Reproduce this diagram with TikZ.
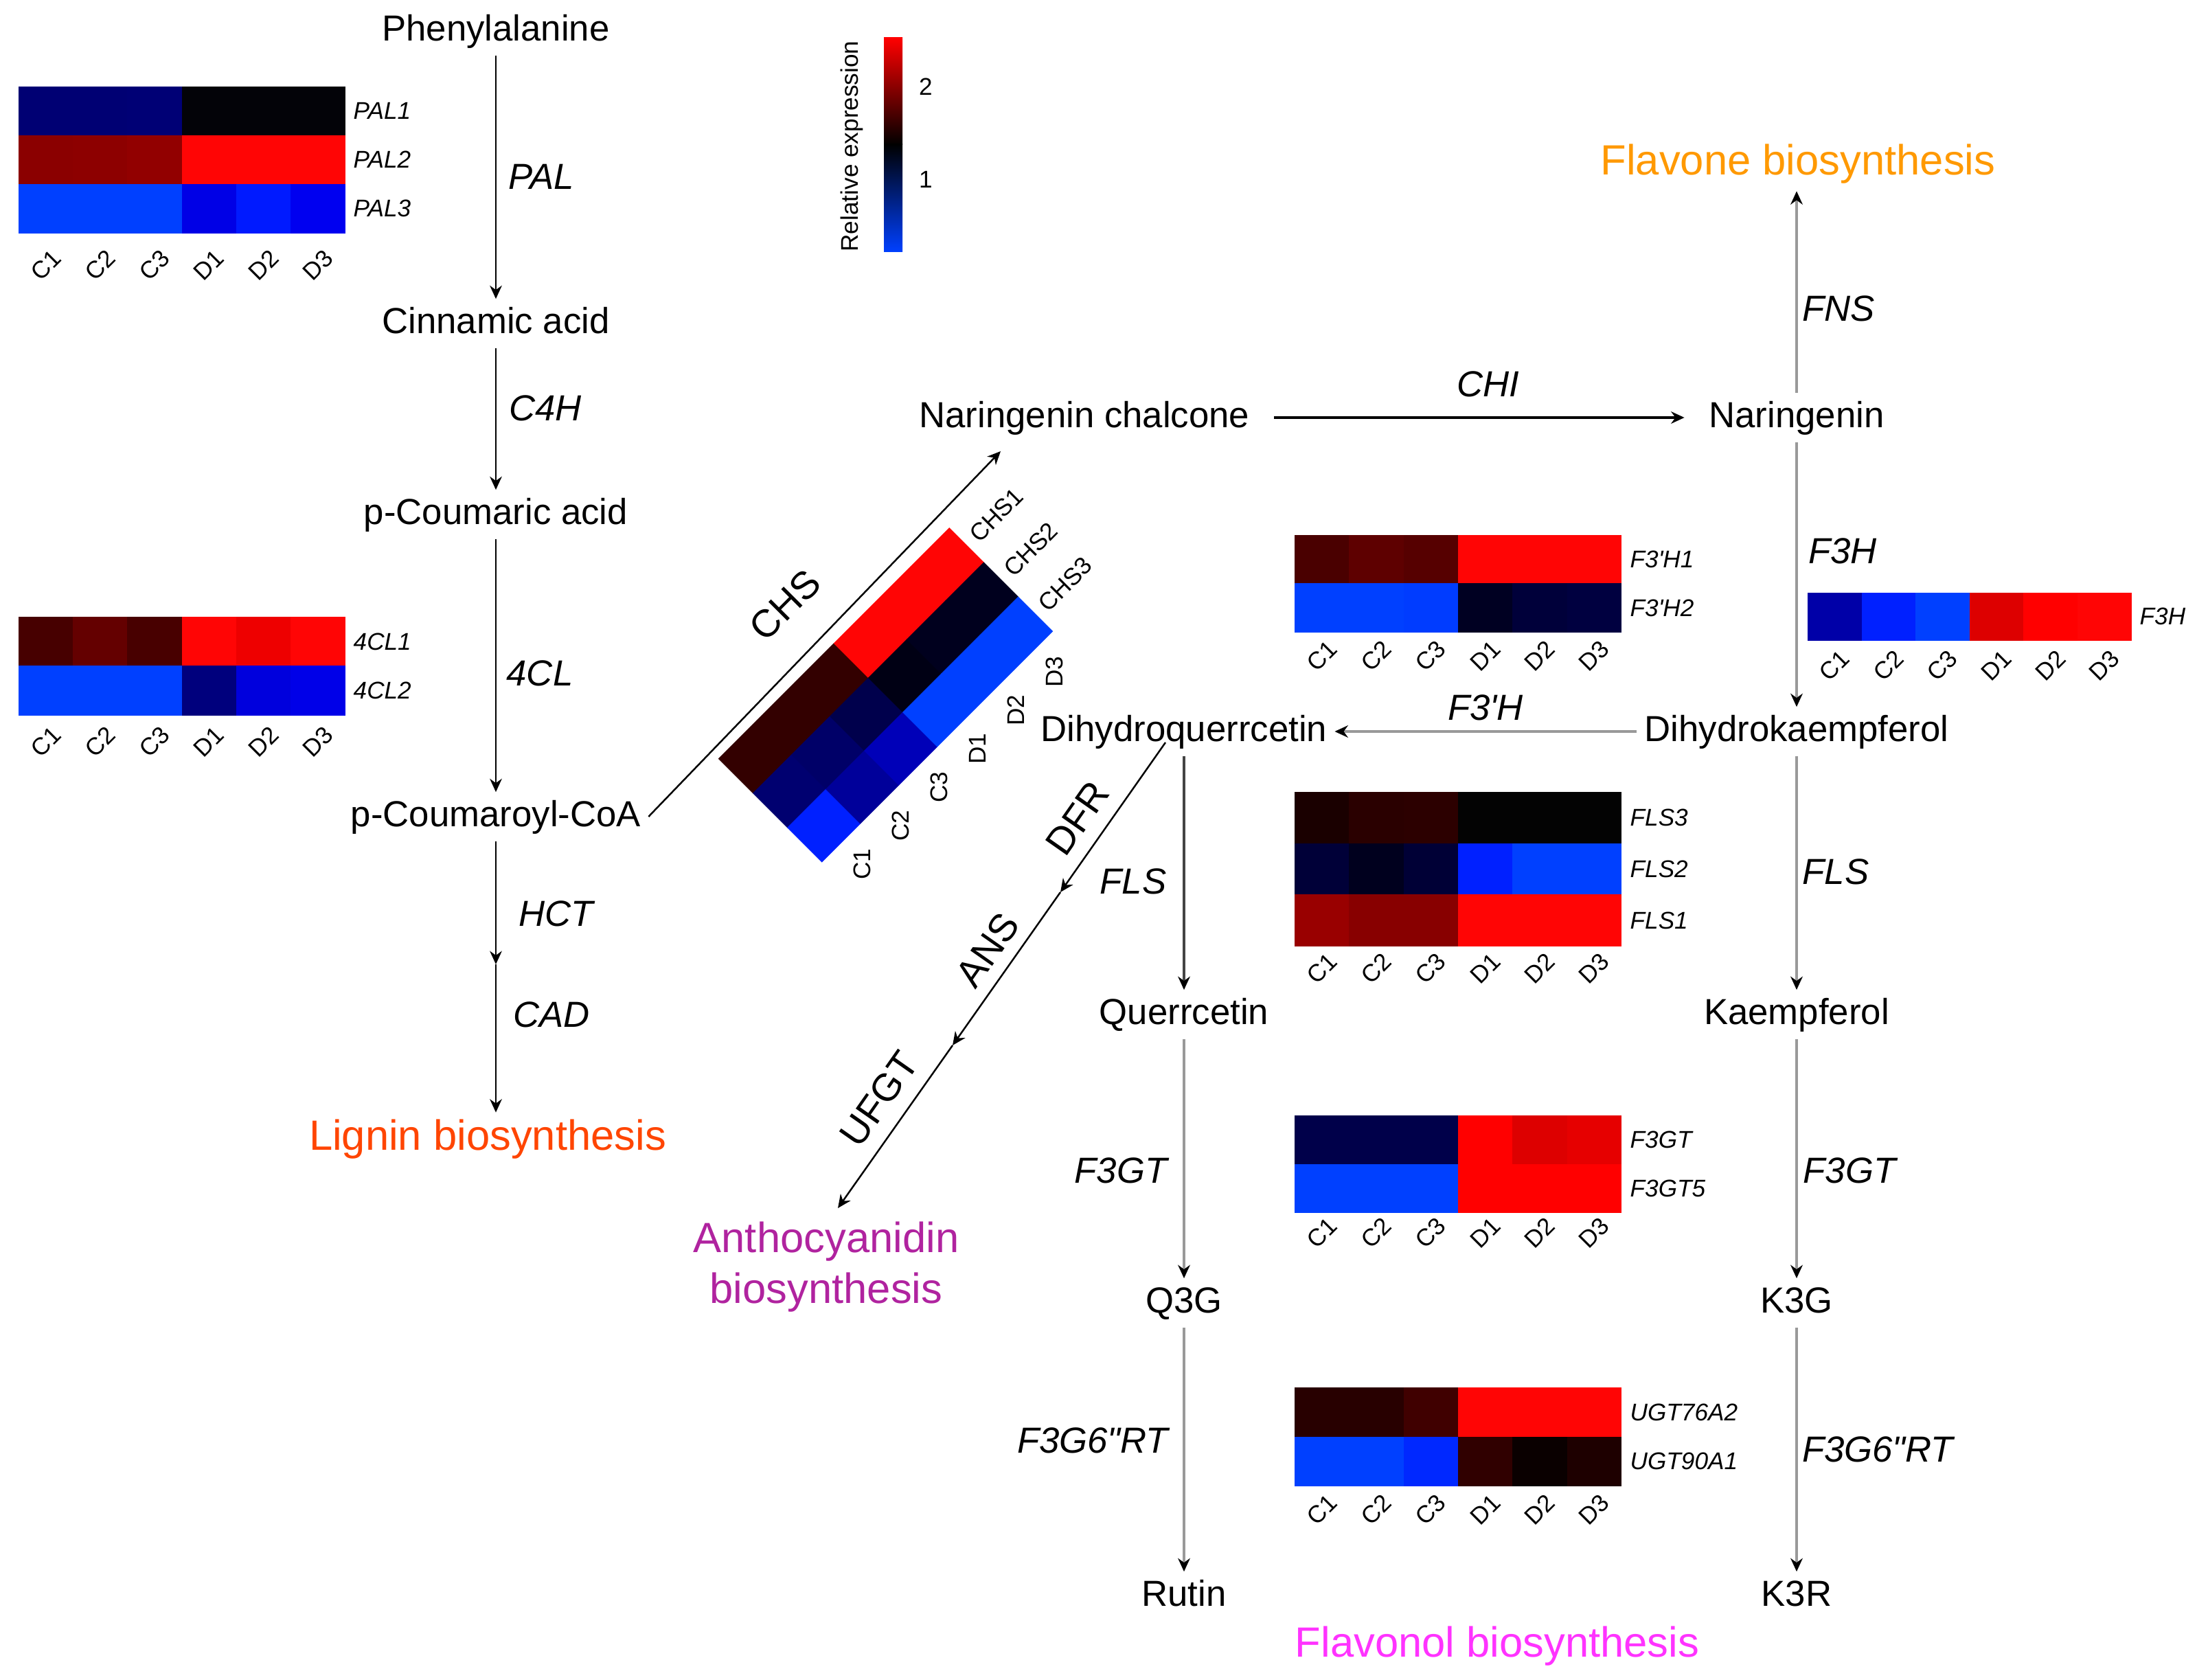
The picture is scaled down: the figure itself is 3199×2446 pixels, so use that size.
\documentclass[tikz,border=0pt]{standalone}
\usepackage{fontspec}
\setmainfont{Liberation Sans}
\usetikzlibrary{arrows.meta}
\definecolor{ligninc}{HTML}{FF4500}
\definecolor{flavonec}{HTML}{FF9900}
\definecolor{anthoc}{HTML}{B0239F}
\definecolor{flavonolc}{HTML}{FF33FF}
\definecolor{arrgray}{HTML}{999999}
\definecolor{darkg}{HTML}{444444}
\definecolor{cbblue}{HTML}{0040FF}
\tikzset{
  met/.style={font=\fontsize{15}{18}\selectfont, text height=11pt, text depth=3pt, inner sep=3pt},
  enz/.style={font=\fontsize{15}{18}\selectfont\itshape, inner sep=0pt},
  renz/.style={font=\fontsize{16}{19}\selectfont, inner sep=0pt},
  pathlbl/.style={font=\fontsize{17.5}{21}\selectfont, text height=12.5pt, text depth=3.5pt, inner sep=3pt},
  gene/.style={font=\fontsize{10}{12}\selectfont\itshape, anchor=west, inner sep=0pt},
  samp/.style={font=\fontsize{10}{12}\selectfont, inner sep=0pt},
  blk/.style={draw=black, line width=0.7pt, -{Stealth[length=5.5pt,width=5pt]}},
  dk/.style={draw=darkg, line width=1.1pt, -{Stealth[length=5.5pt,width=5pt,color=black]}},
  gry/.style={draw=arrgray, line width=1.4pt, -{Stealth[length=5.5pt,width=5pt,color=black]}},
}
% heatmap row: x0, y0, cell width, cell height, colours
\newcommand\hmrow[5]{%
  \foreach \cc [count=\kk from 0] in {#5}{%
    \edef\tmpdef{\noexpand\definecolor{hmc}{HTML}{\cc}}\tmpdef
    \fill[hmc] ({#1+\kk*#3},{#2}) rectangle ({#1+(\kk+1)*#3+0.6},{#2+#4+0.6});
  }}
% sample labels: x0, cell width, y, rotation, name prefix
\newcommand\hmsamp[5]{%
  \foreach \ss [count=\kk from 0] in {C1,C2,C3,D1,D2,D3}{%
    \node[samp, rotate=#4] (#5\ss) at ({#1+(\kk+0.5)*#2},{#3}) {\ss};
  }}
\begin{document}
\begin{tikzpicture}[x=0.01cm,y=-0.01cm]
\fill[white] (0,0) rectangle (3199,2446);
\useasboundingbox (0,0) rectangle (3199,2446);

% ---------- metabolites ----------
\node[met] (phe) at (722,45) {Phenylalanine};
\node[met] (cin) at (722,471) {Cinnamic acid};
\node[met] (pcou) at (722,749) {p-Coumaric acid};
\node[met] (coa) at (722,1189) {p-Coumaroyl-CoA};
\node[pathlbl, text=ligninc] (lig) at (710,1659) {Lignin biosynthesis};
\coordinate (hctmid) at (722,1404);

\node[met] (chal) at (1579,608) {Naringenin chalcone};
\node[met] (nar) at (2616,608) {Naringenin};
\node[pathlbl, text=flavonec] (flav) at (2618,239) {Flavone biosynthesis};
\node[met] (dhk) at (2616,1065) {Dihydrokaempferol};
\node[met] (dhq) at (1724,1065) {Dihydroquerrcetin};
\node[met] (que) at (1724,1477) {Querrcetin};
\node[met] (q3g) at (1724,1897) {Q3G};
\node[met] (rut) at (1724,2324) {Rutin};
\node[met] (kae) at (2616,1477) {Kaempferol};
\node[met] (k3g) at (2616,1897) {K3G};
\node[met] (k3r) at (2616,2324) {K3R};
\node[pathlbl, text=anthoc, align=center, text height=, text depth=] (anth) at (1203,1845) {Anthocyanidin\\biosynthesis};
\node[pathlbl, text=flavonolc] (flavol) at (2180,2397) {Flavonol biosynthesis};

\coordinate (chstip) at (1457,657);
\coordinate (dfr0) at (1697,1081);
\coordinate (dfr1) at (1544,1299);
\coordinate (dfr2) at (1387,1522);
\coordinate (dfr3) at (1220,1759);

% ---------- connectors ----------
\draw[blk] (phe) -- (cin);
\draw[blk] (cin) -- (pcou);
\draw[blk] (pcou) -- (coa);
\draw[blk] (coa) -- (hctmid);
\draw[blk] (hctmid) -- (hctmid |- lig.north);
\draw[blk] (coa.east) -- (chstip);
\draw[blk, line width=1.1pt, shorten <=7pt, shorten >=7pt] (chal) -- (nar);
\draw[gry] (nar) -- (nar |- flav.south);
\draw[gry] (nar) -- (dhk);
\draw[gry] (dhk) -- (dhq);
\draw[gry] (dhk) -- (kae);
\draw[gry] (kae) -- (k3g);
\draw[gry] (k3g) -- (k3r);
\draw[dk] (dhq) -- (que);
\draw[gry] (que) -- (q3g);
\draw[gry] (q3g) -- (rut);
\draw[blk] (dfr0) -- (dfr1);
\draw[blk] (dfr1) -- (dfr2);
\draw[blk] (dfr2) -- (dfr3);

% ---------- enzyme labels ----------
\node[enz] (ePAL) at (788,257) {PAL};
\node[enz] (eC4H) at (794,594) {C4H};
\node[enz] (e4CL) at (786,980) {4CL};
\node[enz] (eHCT) at (810,1330) {HCT};
\node[enz] (eCAD) at (803,1477) {CAD};
\node[enz] (eCHI) at (2167,559) {CHI};
\node[enz] (eFNS) at (2677,449) {FNS};
\node[enz] (eF3H) at (2683,802) {F3H};
\node[enz] (eF3pH) at (2163,1030) {F3\textquotesingle H};
\node[enz] (eFLSm) at (1650,1283) {FLS};
\node[enz] (eFLSr) at (2673,1269) {FLS};
\node[enz] (eF3GTm) at (1632,1704) {F3GT};
\node[enz] (eF3GTr) at (2693,1704) {F3GT};
\node[enz] (eRTm) at (1591,2097) {F3G6\textquotedbl RT};
\node[enz] (eRTr) at (2734,2110) {F3G6\textquotedbl RT};
\node[renz, rotate=45] (eCHS) at (1143,881) {CHS};
\node[renz, rotate=55] (eDFR) at (1569,1191) {DFR};
\node[renz, rotate=55] (eANS) at (1438,1383) {ANS};
\node[renz, rotate=55] (eUFGT) at (1280,1600) {UFGT};

% ---------- heatmaps ----------
% PAL
\hmrow{27}{126}{79.2}{71}{000073,000073,000075,030308,030308,030308}
\hmrow{27}{197}{79.2}{71}{8B0000,8D0000,920000,FF0505,FF0505,FF0505}
\hmrow{27}{268}{79.2}{71}{0040FF,0040FF,0040FF,0000E6,001AFF,0000F0}
\node[gene] (gPAL1) at (514,161.5) {PAL1};
\node[gene] (gPAL2) at (514,232.5) {PAL2};
\node[gene] (gPAL3) at (514,303.5) {PAL3};
\hmsamp{27}{79.2}{386}{45}{pal}

% 4CL
\hmrow{27}{898}{79.2}{71.5}{470000,640000,480000,FF0505,EE0000,FF0505}
\hmrow{27}{969.5}{79.2}{71.5}{0040FF,0040FF,0040FF,00007D,0000DD,0000E8}
\node[gene] (g4CL1) at (514,934) {4CL1};
\node[gene] (g4CL2) at (514,1005) {4CL2};
\hmsamp{27}{79.2}{1080}{45}{fcl}

% CHS (rotated)
\begin{scope}[shift={(1289,1012)}, rotate=45]
\hmrow{-237.5}{-106.5}{79.2}{71}{330000,330000,330000,FF0505,FF0505,FF0505}
\hmrow{-237.5}{-35.5}{79.2}{71}{000070,000068,00004C,000014,00001E,00001E}
\hmrow{-237.5}{35.5}{79.2}{71}{0020FF,00009A,0000B8,0040FF,0040FF,0040FF}
\node[gene, font=\fontsize{10}{12}\selectfont, rotate=45] (gCHS1) at (252,-71) {CHS1};
\node[gene, font=\fontsize{10}{12}\selectfont, rotate=45] (gCHS2) at (252,0) {CHS2};
\node[gene, font=\fontsize{10}{12}\selectfont, rotate=45] (gCHS3) at (252,71) {CHS3};
\hmsamp{-237.5}{79.2}{150}{90}{chs}
\end{scope}

% F3'H
\hmrow{1885}{779}{79.3}{70.5}{4A0000,5E0000,560000,FF0505,FF0505,FF0505}
\hmrow{1885}{849.5}{79.3}{70.5}{0040FF,0040FF,003CFF,000022,00003A,000040}
\node[gene] (gF3pH1) at (2373,814) {F3\textquotesingle H1};
\node[gene] (gF3pH2) at (2373,885) {F3\textquotesingle H2};
\hmsamp{1885}{79.3}{955}{45}{fph}

% F3H
\hmrow{2632}{863}{78.5}{69}{0000A8,0020FF,0040FF,DD0000,FF0000,FF0505}
\node[gene] (gF3H) at (3115,897) {F3H};
\hmsamp{2632}{78.5}{969}{45}{fth}

% FLS
\hmrow{1885}{1153}{79.3}{74.7}{1A0000,2A0000,2C0000,030303,030303,030303}
\hmrow{1885}{1227.7}{79.3}{74.7}{000038,00001E,000036,0020FF,0040FF,0040FF}
\hmrow{1885}{1302.4}{79.3}{74.7}{990000,880000,880000,FF0505,FF0505,FF0505}
\node[gene] (gFLS3) at (2373,1190) {FLS3};
\node[gene] (gFLS2) at (2373,1265) {FLS2};
\node[gene] (gFLS1) at (2373,1340) {FLS1};
\hmsamp{1885}{79.3}{1410}{45}{fls}

% F3GT
\hmrow{1885}{1624}{79.3}{70.5}{00004A,00004A,00004A,FF0000,DD0000,E60000}
\hmrow{1885}{1694.5}{79.3}{70.5}{0040FF,0040FF,0040FF,FF0000,FF0000,FF0000}
\node[gene] (gF3GT) at (2373,1659) {F3GT};
\node[gene] (gF3GT5) at (2373,1730) {F3GT5};
\hmsamp{1885}{79.3}{1795}{45}{fgt}

% UGT
\hmrow{1885}{2020}{79.3}{71.5}{280000,280000,400000,FF0505,FF0505,FF0505}
\hmrow{1885}{2091.5}{79.3}{71.5}{0040FF,0040FF,0028FF,300000,0A0000,1E0000}
\node[gene] (gUGT1) at (2373,2056) {UGT76A2};
\node[gene] (gUGT2) at (2373,2127) {UGT90A1};
\hmsamp{1885}{79.3}{2198}{45}{ugt}

% ---------- colour bar ----------
\shade[top color=red, bottom color=black] (1287,55) rectangle (1314,211);
\shade[top color=black, bottom color=cbblue] (1287,210) rectangle (1314,367);
\node[samp] (cb2) at (1348,126) {2};
\node[samp] (cb1) at (1348,261) {1};
\node[samp, rotate=90] (cbt) at (1240,213) {Relative expression};
\end{tikzpicture}
\end{document}
